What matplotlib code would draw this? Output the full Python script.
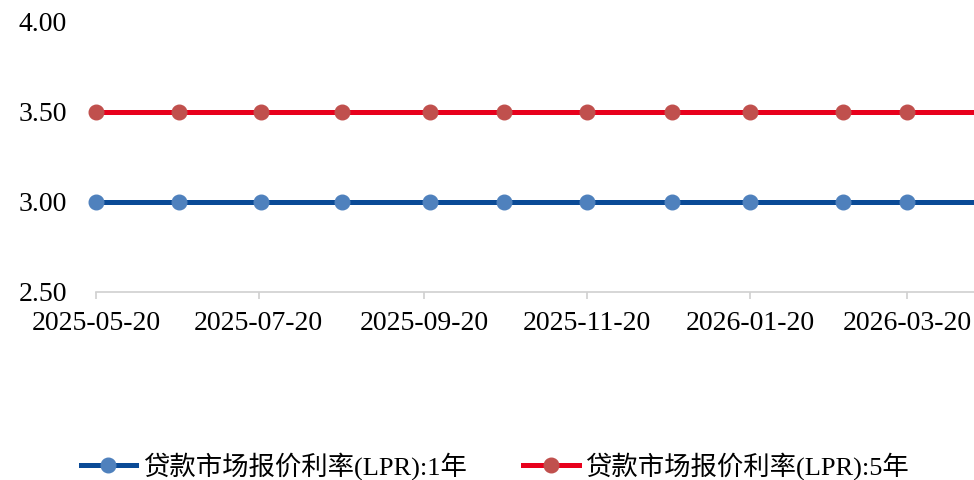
import datetime as dt
import matplotlib.pyplot as plt
import matplotlib.dates as mdates

plt.rcParams['font.family'] = ['Liberation Serif', 'Noto Sans CJK SC']

# LPR fixing dates, plus the last date of the series (no marker)
dates = ['2025-05-20', '2025-06-20', '2025-07-21', '2025-08-20', '2025-09-22',
         '2025-10-20', '2025-11-20', '2025-12-22', '2026-01-20', '2026-02-24',
         '2026-03-20', '2026-04-14']
lpr_1y = [3.00, 3.00, 3.00, 3.00, 3.00, 3.00, 3.00, 3.00, 3.00, 3.00, 3.00, 3.00]
lpr_5y = [3.50, 3.50, 3.50, 3.50, 3.50, 3.50, 3.50, 3.50, 3.50, 3.50, 3.50, 3.50]
tick_dates = ['2025-05-20', '2025-07-20', '2025-09-20', '2025-11-20',
              '2026-01-20', '2026-03-20']
y_ticks = [2.50, 3.00, 3.50, 4.00]

x = [dt.datetime.strptime(d, '%Y-%m-%d') for d in dates]
xt = [dt.datetime.strptime(d, '%Y-%m-%d') for d in tick_dates]
marked = list(range(len(x) - 1))

fig = plt.figure(figsize=(9.74, 4.8), dpi=100)
ax = fig.add_axes([96 / 974, 1 - 292 / 480, 1 - 96 / 974, (292 - 22) / 480])

ax.plot(x, lpr_1y, color='#0A4A96', lw=3.6, marker='o', ms=10.5,
        mfc='#4F81BD', mec='#4F81BD', markevery=marked, clip_on=False,
        label='贷款市场报价利率(LPR):1年')
ax.plot(x, lpr_5y, color='#E8001C', lw=3.6, marker='o', ms=10.5,
        mfc='#C0504D', mec='#C0504D', markevery=marked, clip_on=False,
        label='贷款市场报价利率(LPR):5年')

ax.set_xlim(x[0], x[-1])
ax.set_ylim(2.5, 4.0)
ax.set_yticks(y_ticks)
ax.yaxis.set_major_formatter(plt.FormatStrFormatter('%.2f'))
ax.set_xticks(xt)
ax.xaxis.set_major_formatter(mdates.DateFormatter('%Y-%m-%d'))

for s in ['top', 'right', 'left']:
    ax.spines[s].set_visible(False)
ax.spines['bottom'].set_color('#D0D0D0')
ax.spines['bottom'].set_linewidth(1.2)
ax.tick_params(axis='y', length=0, pad=21, labelsize=20)
ax.tick_params(axis='x', length=5, width=1.2, color='#D0D0D0', pad=9, labelsize=20)

fig.legend(loc='center', bbox_to_anchor=(0.508, 1 - 466 / 480), ncol=2,
           frameon=False, fontsize=19, handlelength=2.1, handletextpad=0.25,
           columnspacing=2.15)

fig.savefig('out.png', dpi=100)
